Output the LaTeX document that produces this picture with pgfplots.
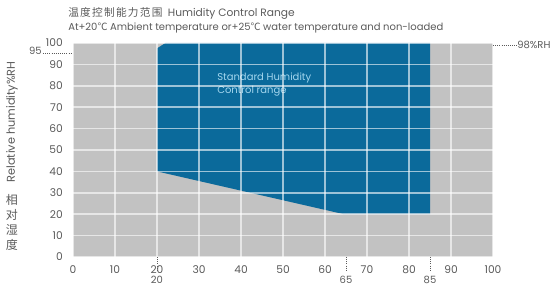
\documentclass[border=0pt]{standalone}
\usepackage{pgfplots}
\pgfplotsset{compat=1.18}
\usepackage{fontspec}
\setmainfont{Poppins}
\newfontfamily\cjk{Noto Sans CJK SC}
\newfontfamily\cjkt[LetterSpace=12]{Noto Sans CJK SC}
\definecolor{bg}{HTML}{C2C2C2}
\definecolor{blu}{HTML}{0B6A9B}
\definecolor{txt}{HTML}{5A5A5A}
\definecolor{lb}{HTML}{A3D6EE}
\begin{document}
\begin{tikzpicture}
\begin{axis}[at={(0,0)},anchor=south west,scale only axis,
  width=315pt,height=160.5pt,
  xmin=0,xmax=100,ymin=0,ymax=100,
  axis line style={draw=none},
  axis background/.style={fill=bg},
  grid=major,
  major grid style={white,opacity=0.6,line width=1.1pt},
  axis on top,
  xtick={0,10,...,100},ytick={0,10,...,100},
  major tick length=0pt,
  tick label style={font=\fontsize{8}{8}\selectfont,text=txt,inner sep=0pt},
  /pgf/number format/assume math mode=true,
  xticklabel style={anchor=center,yshift=-9.5pt},
  yticklabel style={anchor=east,xshift=-7.5pt},
  clip=false]
\addplot[fill=blu,draw=none] coordinates {(20,40) (20,97.5) (22,100) (85,100) (85,20) (64.5,20)} -- cycle;
\node[anchor=west,text=lb,align=left,inner sep=0pt,font=\fontsize{7.5}{9.75}\selectfont] at (axis cs:34.3,80.6) {Standard Humidity\\Control range};
\end{axis}
\begin{scope}[x=0.75pt,y=0.75pt]
\draw[txt,densely dotted,line width=0.6pt] (20*4.2,0) -- (20*4.2,-14);
\draw[txt,densely dotted,line width=0.6pt] (65*4.2,0) -- (65*4.2,-14);
\draw[txt,densely dotted,line width=0.6pt] (85*4.2,0) -- (85*4.2,-14);
\node[text=txt,font=\fontsize{7.5}{7.5}\selectfont,inner sep=0pt] at (20*4.2,-22.5) {20};
\node[text=txt,font=\fontsize{7.5}{7.5}\selectfont,inner sep=0pt] at (65*4.2,-22.5) {65};
\node[text=txt,font=\fontsize{7.5}{7.5}\selectfont,inner sep=0pt] at (85*4.2,-22.5) {85};
\draw[txt,densely dotted,line width=0.6pt] (-30,204) -- (-1,204);
\node[anchor=east,text=txt,font=\fontsize{7.5}{7.5}\selectfont,inner sep=0pt] at (-31,206) {95};
\draw[txt,densely dotted,line width=0.6pt] (420,212) -- (444,212);
\node[anchor=west,text=txt,font=\fontsize{7.5}{7.5}\selectfont,inner sep=0pt] at (444,212) {98\%RH};
\node[rotate=90,text=txt,font=\fontsize{8.5}{8.5}\selectfont,inner sep=0pt] at (-61,135) {Relative humidity\%RH};
\node[text=txt,align=center,font=\cjk\fontsize{9}{11.25}\selectfont,inner sep=0pt] at (-61,35) {相\\对\\湿\\度};
\node[anchor=west,text=txt,inner sep=0pt] at (-5,244) {{\cjkt\fontsize{8}{8}\selectfont 温度控制能力范围}\hspace{4pt}{\fontsize{8}{8}\selectfont Humidity Control Range}};
\node[anchor=west,text=txt,inner sep=0pt,font=\fontsize{7.5}{7.5}\selectfont] at (-5,229) {At+20{\cjk ℃} Ambient temperature or+25{\cjk ℃} water temperature and non-loaded};
\pgfresetboundingbox
\path[use as bounding box] (-73,-28) rectangle (484,257);
\end{scope}
\end{tikzpicture}
\end{document}
